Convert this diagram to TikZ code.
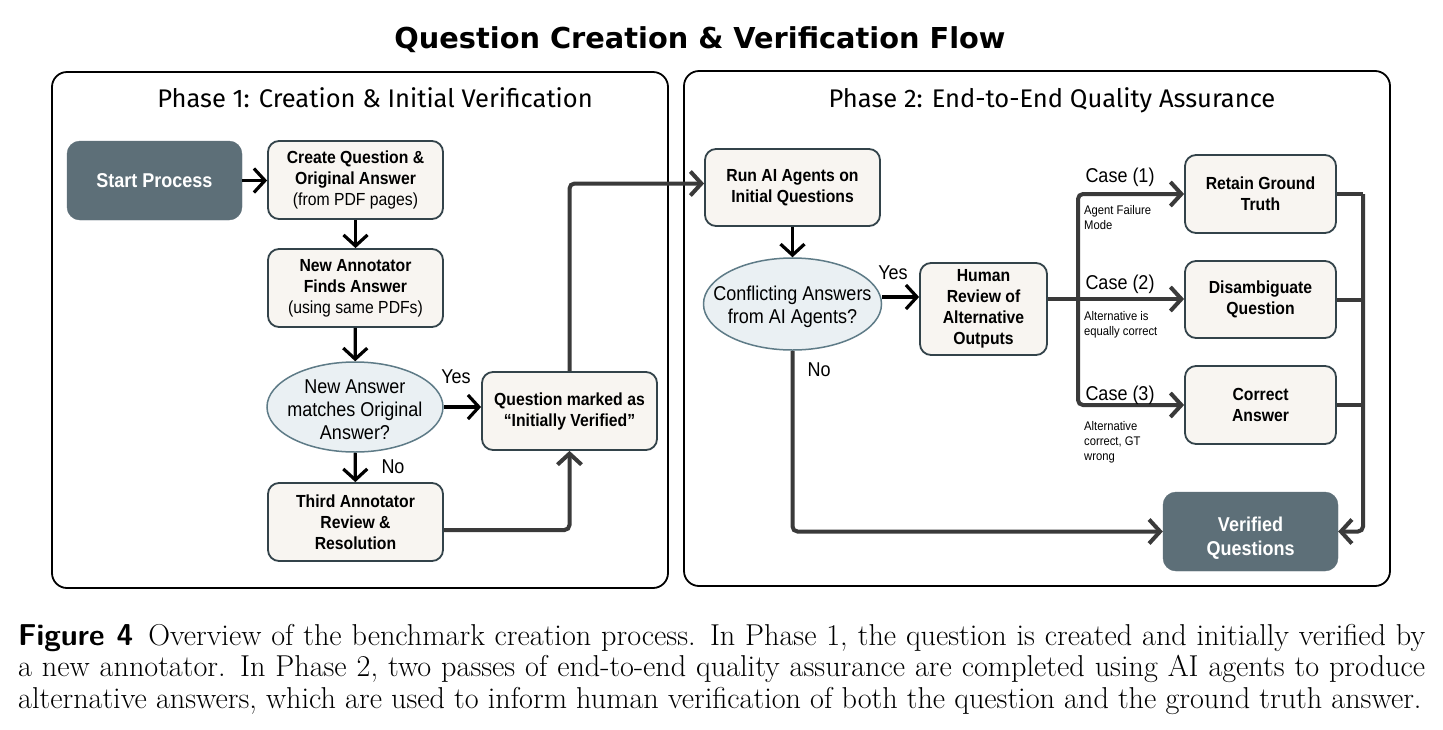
\documentclass[tikz,border=0pt]{standalone}
\usepackage{fontspec}
\newfontfamily\nf[FakeStretch=0.9]{Liberation Sans}
\newfontfamily\tf{Fira Sans}
\newfontfamily\hf{DejaVu Sans}
\usetikzlibrary{arrows.meta,shapes.geometric,calc}
\definecolor{slate}{HTML}{5D6F78}
\definecolor{cream}{HTML}{F8F5F1}
\definecolor{bord}{HTML}{33434A}
\definecolor{ellfill}{HTML}{EAF0F3}
\definecolor{ellbord}{HTML}{5E7B87}
\definecolor{conn}{HTML}{3A3A3A}
\begin{document}
\begin{tikzpicture}[x=1pt,y=-1pt,
  phasebox/.style={draw=black, line width=1.8pt, rounded corners=15pt},
  phasetitle/.style={font=\tf\fontsize{25.5}{28}\selectfont, anchor=base, inner sep=0pt},
  procbox/.style={draw=bord, fill=cream, line width=1.8pt, rounded corners=11pt, align=center, font=\nf\bfseries\fontsize{17.5}{21}\selectfont, inner sep=0pt, execute at begin node={\rule{0pt}{17.5pt}}},
  darkbox/.style={fill=slate, draw=slate, rounded corners=13pt, text=white, align=center, font=\nf\bfseries\fontsize{20}{24}\selectfont, inner sep=0pt},
  decide/.style={ellipse, draw=ellbord, fill=ellfill, line width=1.5pt, inner sep=0pt},
  decidetext/.style={align=center, font=\nf\fontsize{20}{23}\selectfont, inner sep=0pt, yshift=-3pt},
  shortarr/.style={draw=black, line width=3.2pt, -{Straight Barb[length=11pt,width=24pt]}},
  longarr/.style={draw=conn, line width=4pt, rounded corners=5pt, -{Straight Barb[length=11pt,width=24pt]}},
  longline/.style={draw=conn, line width=4pt, rounded corners=5pt},
  lab/.style={font=\nf\fontsize{20}{23}\selectfont, inner sep=0pt},
  smalllab/.style={font=\nf\fontsize{12.5}{15}\selectfont, inner sep=0pt, align=left, anchor=north west},
]
\useasboundingbox (0,0) rectangle (1443,729);
\fill[white] (0,0) rectangle (1443,729);

% title
\node[font=\hf\bfseries\fontsize{28.8}{32}\selectfont, anchor=base, inner sep=0pt] (title) at (700,48.5) {Question Creation \& Verification Flow};

% phase boxes
\draw[phasebox] (52,72) rectangle (668,588);
\draw[phasebox] (684,71) rectangle (1390,586);
\node[phasetitle] (p1title) at (375,107) {Phase 1: Creation \& Initial Verification};
\node[phasetitle] (p2title) at (1052,107) {Phase 2: End-to-End Quality Assurance};

% phase 1 nodes
\node[darkbox, minimum width=175pt, minimum height=79pt] (start) at (154.5,180.5) {Start Process};
\node[procbox, minimum width=175pt, minimum height=78pt] (create) at (355.5,180) {Create Question \&\\Original Answer\\{\mdseries (from PDF pages)}};
\node[procbox, minimum width=175pt, minimum height=78pt] (newann) at (355.5,288) {New Annotator\\Finds Answer\\{\mdseries (using same PDFs)}};
\node[decide, minimum width=176pt, minimum height=90pt, label={[decidetext]center:New Answer\\matches Original\\Answer?}] (match) at (355,407) {};
\node[procbox, minimum width=175pt, minimum height=78pt] (third) at (355.5,522) {Third Annotator\\Review \&\\Resolution};
\node[procbox, minimum width=175pt, minimum height=78pt] (qmarked) at (569.5,411) {Question marked as\\“Initially Verified”};

% phase 2 nodes
\node[procbox, minimum width=175pt, minimum height=77pt] (run) at (792.5,187.5) {Run AI Agents on\\Initial Questions};
\node[decide, minimum width=178pt, minimum height=92pt, label={[decidetext]center:Conflicting Answers\\from AI Agents?}] (conf) at (792.5,304) {};
\node[procbox, minimum width=127pt, minimum height=92pt] (human) at (983.5,309) {Human\\Review of\\Alternative\\Outputs};
\node[procbox, minimum width=151pt, minimum height=78pt] (retain) at (1260.5,194) {Retain Ground\\Truth};
\node[procbox, minimum width=151pt, minimum height=77pt] (disamb) at (1260.5,299.5) {Disambiguate\\Question};
\node[procbox, minimum width=151pt, minimum height=78pt] (correct) at (1260.5,405) {Correct\\Answer};
\node[darkbox, minimum width=175pt, minimum height=79pt] (verified) at (1250.5,531.5) {\rule{0pt}{27pt}Verified\\Questions};

% phase 1 connectors
\draw[shortarr] (start.east) -- (start.east -| create.west);
\draw[shortarr] (create) -- (newann);
\draw[shortarr] (newann) -- (match);
\draw[shortarr] (match) -- (third);
\draw[shortarr] (match.east) -- (match.east -| qmarked.west);
\node[lab] (yes1) at (456,377) {Yes};
\node[lab] (no1) at (393,467) {No};
\draw[longarr] ($(third.east)+(0,8)$) -| (qmarked.south);
\draw[longarr] (qmarked.north) |- ($(run.west)+(0,-4)$);

% phase 2 connectors
\draw[shortarr] (run) -- (conf);
\draw[shortarr] ($(conf.east)+(0,-7)$) -- ($(conf.east -| human.west)+(0,-7)$);
\node[lab] (yes2) at (893,273) {Yes};
\node[lab] (no2) at (819,370) {No};
\draw[longarr] (conf.south) |- (verified.west);

\coordinate (split) at (1078,299);
\draw[longline] ($(human.east)+(0,-10)$) -- (split);
\draw[longarr] (split) |- (retain.west);
\draw[longarr] (split) -- (split -| disamb.west);
\draw[longarr] (split) |- (correct.west);

\node[lab] (case1) at (1120,177) {Case (1)};
\node[lab] (case2) at (1120,284) {Case (2)};
\node[lab] (case3) at (1120,395) {Case (3)};
\node[smalllab] (why1) at (1084,205) {Agent Failure\\Mode};
\node[smalllab] (why2) at (1084,311) {Alternative is\\equally correct};
\node[smalllab] (why3) at (1084,421) {Alternative\\correct, GT\\wrong};

\coordinate (bus) at (1363,531.5);
\draw[longline] (retain.east) -- (retain.east -| bus);
\draw[longline] (disamb.east) -- (disamb.east -| bus);
\draw[longline] (correct.east) -- (correct.east -| bus);
\draw[longarr] (retain.east -| bus) -- (bus) -- (verified.east);

% caption
\node[anchor=north west, text width=1407pt, align=justify, inner sep=0pt, font=\fontsize{30.2}{31.5}\selectfont] (cap) at (18,624) {{\sffamily\bfseries Figure 4}\enspace Overview of the benchmark creation process. In Phase 1, the question is created and initially verified by\linebreak a new annotator. In Phase 2, two passes of end-to-end quality assurance are completed using AI agents to produce\linebreak alternative answers, which are used to inform human verification of both the question and the ground truth answer.};
\end{tikzpicture}
\end{document}
